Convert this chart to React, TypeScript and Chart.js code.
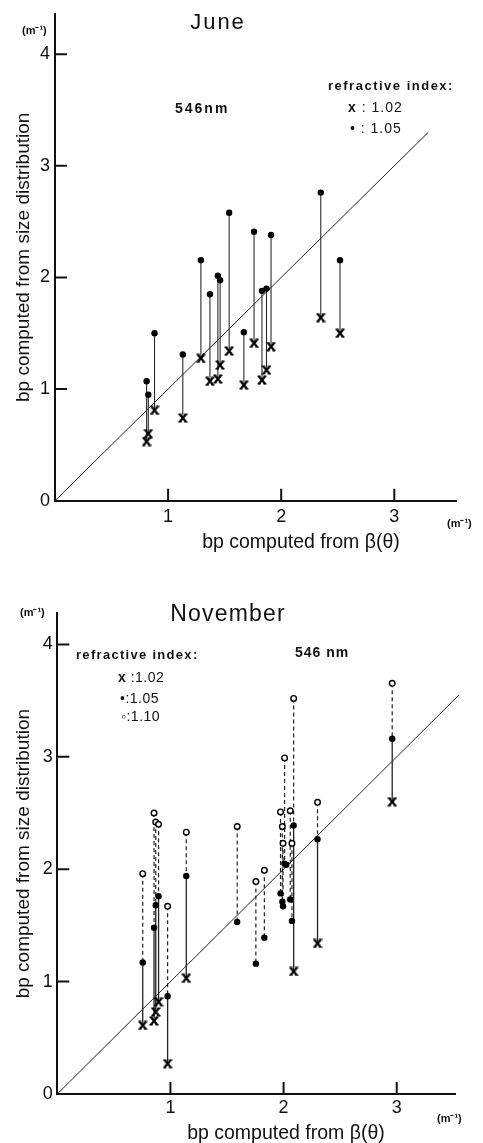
import React, { useEffect, useRef } from 'react';
import { Chart, registerables } from 'chart.js';

Chart.register(...registerables);

// ---------------- June (546 nm) ----------------
// bp computed from beta(theta)
const juneBeta = [0.81, 0.825, 0.88, 1.13, 1.29, 1.37, 1.44, 1.46, 1.54, 1.67, 1.76, 1.83, 1.87, 1.91, 2.35, 2.52];
// bp from size distribution, refractive index 1.05 (dots)
const juneN105 = [1.07, 0.95, 1.5, 1.31, 2.155, 1.85, 2.015, 1.975, 2.58, 1.51, 2.41, 1.88, 1.9, 2.38, 2.76, 2.155];
// refractive index 1.02 (crosses)
const juneN102 = [0.53, 0.6, 0.81, 0.74, 1.275, 1.07, 1.09, 1.215, 1.34, 1.035, 1.41, 1.08, 1.17, 1.38, 1.64, 1.5];
const juneDiagonal = [0, 3.3];

// ---------------- November (546 nm) ----------------
const novBeta = [0.755, 0.855, 0.87, 0.895, 0.975, 1.14, 1.59, 1.755, 1.83, 1.973, 1.989, 1.995, 2.009, 2.024, 2.059, 2.074, 2.089, 2.3, 2.96];
// refractive index 1.10 (open circles)
const novN110 = [1.96, 2.5, 2.42, 2.4, 1.67, 2.33, 2.38, 1.89, 1.99, 2.51, 2.38, 2.23, 2.99, null, 2.52, 2.23, 3.52, 2.595, 3.654];
// refractive index 1.05 (dots)
const novN105 = [1.17, 1.48, 1.68, 1.76, 0.87, 1.94, 1.53, 1.16, 1.39, 1.785, 1.71, 1.67, 2.05, 2.04, 1.73, 1.54, 2.39, 2.266, 3.161];
// refractive index 1.02 (crosses)
const novN102 = [0.61, 0.65, 0.73, 0.82, 0.27, 1.03, null, null, null, null, null, null, null, null, null, null, 1.09, 1.34, 2.6];
const novDiagonal = [0, 3.55];

// ---------------- axes ----------------
const xTickValues = [1, 2, 3];
const yTickValues = [0, 1, 2, 3, 4];
const juneXMax = 3.55;
const juneYMax = 4.36;
const novXMax = 3.515;
const novYMax = 4.277;

const INK = '#111';
const FONT = '"Liberation Sans", Arial, sans-serif';

type Val = number | null;

function toPoints(xs: number[], ys: Val[]) {
  const out: { x: number; y: number }[] = [];
  xs.forEach((x, i) => {
    const y = ys[i];
    if (y !== null && y !== undefined) out.push({ x, y });
  });
  return out;
}

function segments(xs: number[], tops: Val[], bottoms: Val[]) {
  const out: { x: number; y: number | null }[] = [];
  xs.forEach((x, i) => {
    const a = tops[i];
    const b = bottoms[i];
    if (a === null || a === undefined || b === null || b === undefined) return;
    out.push({ x, y: a }, { x, y: b }, { x, y: null });
  });
  return out;
}

function crossMarker(): HTMLCanvasElement {
  const c = document.createElement('canvas');
  c.width = 10;
  c.height = 10;
  const g = c.getContext('2d')!;
  g.strokeStyle = '#000';
  g.lineWidth = 2.2;
  g.beginPath();
  g.moveTo(2, 1.5);
  g.lineTo(8, 8.5);
  g.moveTo(8, 1.5);
  g.lineTo(2, 8.5);
  g.stroke();
  g.lineWidth = 1.4;
  g.beginPath();
  g.moveTo(0.5, 1.2);
  g.lineTo(3.6, 1.2);
  g.moveTo(6.4, 1.2);
  g.lineTo(9.5, 1.2);
  g.moveTo(0.5, 8.8);
  g.lineTo(3.6, 8.8);
  g.moveTo(6.4, 8.8);
  g.lineTo(9.5, 8.8);
  g.stroke();
  return c;
}

const insideTicks = {
  id: 'insideTicks',
  beforeDatasetsDraw(chart: any) {
    const { ctx, chartArea, scales } = chart;
    const len = 12;
    ctx.save();
    ctx.strokeStyle = INK;
    ctx.lineWidth = 2;
    ctx.beginPath();
    scales.x.ticks.forEach((t: any) => {
      if (t.value === 0) return;
      const px = scales.x.getPixelForValue(t.value);
      ctx.moveTo(px, chartArea.bottom);
      ctx.lineTo(px, chartArea.bottom - len);
    });
    scales.y.ticks.forEach((t: any) => {
      if (t.value === 0) return;
      const py = scales.y.getPixelForValue(t.value);
      ctx.moveTo(chartArea.left, py);
      ctx.lineTo(chartArea.left + len, py);
    });
    ctx.stroke();
    ctx.restore();
  },
};

interface PanelGeom {
  padTop: number;
  padRight: number;
  yAxisWidth: number;
  xAxisHeight: number;
  xMax: number;
  yMax: number;
  xTickPad: number;
  yTickPad: number;
}

function buildScales(g: PanelGeom) {
  return {
    x: {
      type: 'linear',
      min: 0,
      max: g.xMax,
      afterBuildTicks: (s: any) => {
        s.ticks = xTickValues.map((v) => ({ value: v }));
      },
      afterFit: (s: any) => {
        s.height = g.xAxisHeight;
      },
      grid: { display: false, drawTicks: false, tickLength: 0 },
      border: { display: true, color: INK, width: 2 },
      ticks: {
        color: INK,
        font: { family: FONT, size: 18, lineHeight: 1 },
        padding: g.xTickPad,
        maxRotation: 0,
        autoSkip: false,
      },
    },
    y: {
      type: 'linear',
      min: 0,
      max: g.yMax,
      afterBuildTicks: (s: any) => {
        s.ticks = yTickValues.map((v) => ({ value: v }));
      },
      afterFit: (s: any) => {
        s.width = g.yAxisWidth;
      },
      grid: { display: false, drawTicks: false, tickLength: 0 },
      border: { display: true, color: INK, width: 2 },
      ticks: {
        color: INK,
        font: { family: FONT, size: 18, lineHeight: 1 },
        padding: g.yTickPad,
        autoSkip: false,
      },
      title: {
        display: true,
        text: 'bp computed from size distribution',
        color: INK,
        font: { family: FONT, size: 19, lineHeight: 1 },
        padding: { top: 14, bottom: 0 },
      },
    },
  };
}

function baseOptions(g: PanelGeom) {
  return {
    animation: false,
    responsive: false,
    devicePixelRatio: 1,
    layout: { padding: { left: 0, top: g.padTop, right: g.padRight, bottom: 0 } },
    plugins: { legend: { display: false }, tooltip: { enabled: false } },
    scales: buildScales(g),
  };
}

function juneConfig(): any {
  const geom: PanelGeom = {
    padTop: 13,
    padRight: 26.5,
    yAxisWidth: 55,
    xAxisHeight: 59.3,
    xMax: juneXMax,
    yMax: juneYMax,
    xTickPad: 7,
    yTickPad: 5,
  };
  return {
    type: 'scatter',
    data: {
      datasets: [
        {
          label: '1.05',
          data: toPoints(juneBeta, juneN105),
          pointStyle: 'circle',
          pointRadius: 3.2,
          backgroundColor: '#000',
          borderColor: '#000',
          borderWidth: 0,
          order: 0,
        },
        {
          label: '1.02',
          data: toPoints(juneBeta, juneN102),
          pointStyle: crossMarker(),
          pointRadius: 4,
          order: 1,
        },
        {
          label: 'link',
          data: segments(juneBeta, juneN105, juneN102),
          showLine: true,
          pointRadius: 0,
          borderColor: '#2a2a2a',
          borderWidth: 1.1,
          spanGaps: false,
          order: 2,
        },
        {
          label: '1:1',
          data: juneDiagonal.map((v) => ({ x: v, y: v })),
          showLine: true,
          pointRadius: 0,
          borderColor: '#222',
          borderWidth: 1,
          clip: false,
          order: 3,
        },
      ],
    },
    options: baseOptions(geom),
    plugins: [insideTicks],
  };
}

function novConfig(): any {
  const geom: PanelGeom = {
    padTop: 33.3,
    padRight: 28,
    yAxisWidth: 57.3,
    xAxisHeight: 49,
    xMax: novXMax,
    yMax: novYMax,
    xTickPad: 5.5,
    yTickPad: 4.6,
  };
  return {
    type: 'scatter',
    data: {
      datasets: [
        {
          label: '1.10',
          data: toPoints(novBeta, novN110),
          pointStyle: 'circle',
          pointRadius: 2.8,
          backgroundColor: '#fff',
          borderColor: '#000',
          borderWidth: 1.4,
          order: 0,
        },
        {
          label: '1.05',
          data: toPoints(novBeta, novN105),
          pointStyle: 'circle',
          pointRadius: 3.2,
          backgroundColor: '#000',
          borderColor: '#000',
          borderWidth: 0,
          order: 1,
        },
        {
          label: '1.02',
          data: toPoints(novBeta, novN102),
          pointStyle: crossMarker(),
          pointRadius: 4,
          order: 2,
        },
        {
          label: 'dashed link',
          data: segments(novBeta, novN110, novN105),
          showLine: true,
          pointRadius: 0,
          borderColor: '#222',
          borderWidth: 1.2,
          borderDash: [4, 3],
          spanGaps: false,
          order: 3,
        },
        {
          label: 'solid link',
          data: segments(novBeta, novN105, novN102),
          showLine: true,
          pointRadius: 0,
          borderColor: '#222',
          borderWidth: 1.3,
          spanGaps: false,
          order: 4,
        },
        {
          label: '1:1',
          data: novDiagonal.map((v) => ({ x: v, y: v })),
          showLine: true,
          pointRadius: 0,
          borderColor: '#222',
          borderWidth: 1,
          clip: false,
          order: 5,
        },
      ],
    },
    options: baseOptions(geom),
    plugins: [insideTicks],
  };
}

function ChartPanel({ top, height, build }: { top: number; height: number; build: () => any }) {
  const ref = useRef<HTMLCanvasElement>(null);
  useEffect(() => {
    const chart = new Chart(ref.current as HTMLCanvasElement, build());
    return () => chart.destroy();
  }, []);
  return (
    <canvas
      ref={ref}
      width={483}
      height={height}
      style={{ position: 'absolute', left: 0, top, width: 483, height, display: 'block' }}
    />
  );
}

function Txt(props: {
  x: number;
  y: number;
  size: number;
  bold?: boolean;
  center?: boolean;
  spacing?: number;
  children: React.ReactNode;
}) {
  const { x, y, size, bold, center, spacing = 0, children } = props;
  const st: React.CSSProperties = {
    position: 'absolute',
    top: y - 0.846 * size,
    fontSize: size,
    lineHeight: `${size}px`,
    fontFamily: FONT,
    fontWeight: bold ? 700 : 400,
    whiteSpace: 'pre',
    letterSpacing: spacing,
    color: INK,
  };
  if (center) {
    st.left = x - 160;
    st.width = 320;
    st.textAlign = 'center';
  } else {
    st.left = x;
  }
  return <div style={st}>{children}</div>;
}

export default function App() {
  return (
    <div
      style={{
        position: 'absolute',
        left: 0,
        top: 0,
        width: 483,
        height: 1143,
        overflow: 'hidden',
        background: '#fff',
      }}
    >
      <ChartPanel top={0} height={560} build={juneConfig} />
      <ChartPanel top={580} height={563} build={novConfig} />

      {/* June annotations */}
      <Txt x={218} y={30} size={22} spacing={2} center>June</Txt>
      <Txt x={22} y={34} size={11} bold>(m⁻¹)</Txt>
      <Txt x={175} y={113} size={14} bold spacing={2}>546nm</Txt>
      <Txt x={328} y={90} size={13} bold spacing={1.5}>refractive index:</Txt>
      <Txt x={348} y={111.5} size={14} spacing={1}>
        <b>x</b> : 1.02
      </Txt>
      <Txt x={350} y={133} size={14} spacing={1}>• : 1.05</Txt>
      <Txt x={447} y={527} size={11} bold>(m⁻¹)</Txt>
      <Txt x={301} y={548} size={19.5} center>bp computed from β(θ)</Txt>

      {/* November annotations */}
      <Txt x={228} y={621.7} size={23} spacing={1.2} center>November</Txt>
      <Txt x={20} y={616} size={11} bold>(m⁻¹)</Txt>
      <Txt x={295} y={656.5} size={14} bold spacing={1}>546 nm</Txt>
      <Txt x={76} y={659} size={13} bold spacing={1.3}>refractive index:</Txt>
      <Txt x={118} y={681.5} size={14} spacing={0.5}>
        <b>x</b> :1.02
      </Txt>
      <Txt x={120} y={703} size={14} spacing={0.5}>•:1.05</Txt>
      <Txt x={121} y={720.5} size={14} spacing={0.5}>◦:1.10</Txt>
      <Txt x={437} y={1122} size={11} bold>(m⁻¹)</Txt>
      <Txt x={286} y={1139} size={19.5} center>bp computed from β(θ)</Txt>
    </div>
  );
}
